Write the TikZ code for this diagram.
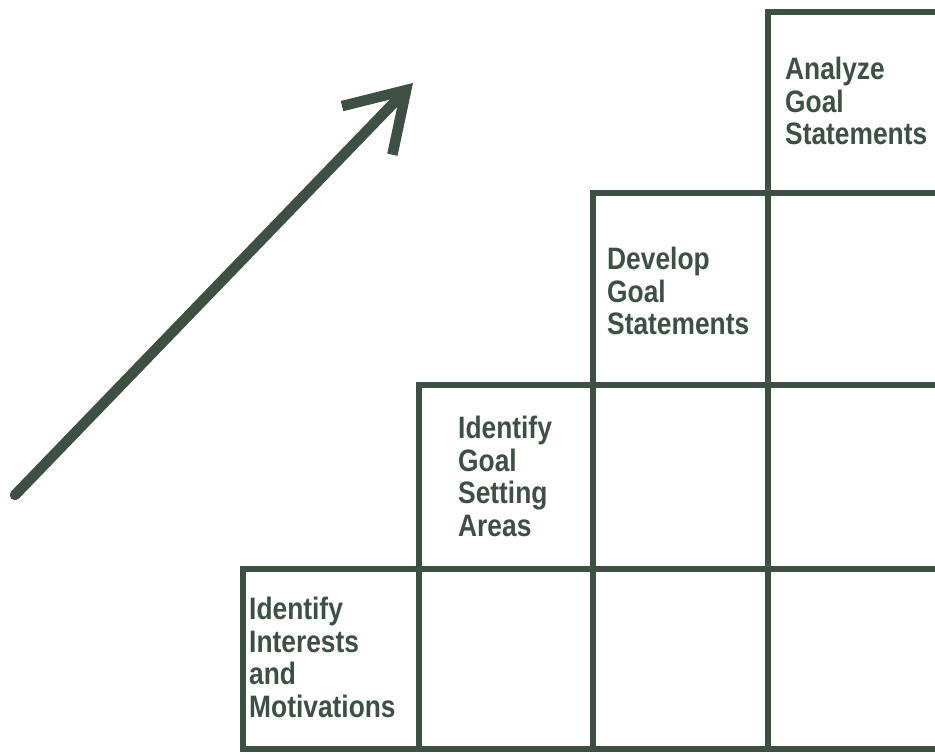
\documentclass[tikz,border=0pt]{standalone}
\usepackage{fontspec}
\setmainfont{Liberation Sans}[FakeStretch=0.85]
\usepackage{xcolor}
\definecolor{ink}{HTML}{3E4F44}
\usepackage{tikz}
\usetikzlibrary{arrows.meta}

\tikzset{
  celltext/.style={anchor=north west, inner sep=0pt, align=left, text=ink,
    font=\bfseries\fontsize{31}{32.5}\selectfont},
  gridline/.style={ink, line width=5.5pt}
}

\begin{document}
\begin{tikzpicture}[x=1pt, y=-1pt]

            \useasboundingbox (0, 0) rectangle (935, 755);
            \clip (0, 0) rectangle (935, 755);

            % columns of the staircase
            \foreach \xl/\xr/\top in {243/419/569, 419/593/385, 593/768/193, 768/950/12}
                \draw[gridline] (\xl, 749) rectangle (\xr, \top);
            % row lines
            \foreach \xl/\top in {243/569, 419/385, 593/193}
                \draw[gridline] (\xl, \top) -- (950, \top);

            \node[celltext] (analyze) at (785, 57) {Analyze\\Goal\\Statements};
            \node[celltext] (develop) at (607, 247) {Develop\\Goal\\Statements};
            \node[celltext] (areas) at (458, 416) {Identify\\Goal\\Setting\\Areas};
            \node[celltext] (interests) at (249, 597) {Identify\\Interests\\and\\Motivations};

            \coordinate (tail) at (15, 495);
            \coordinate (tip) at (413, 83);
            \draw[ink, line width=10.5pt, line cap=round,
                -{Straight Barb[length=56pt, width=70pt]}] (tail) -- (tip);

          \end{tikzpicture}
\end{document}
